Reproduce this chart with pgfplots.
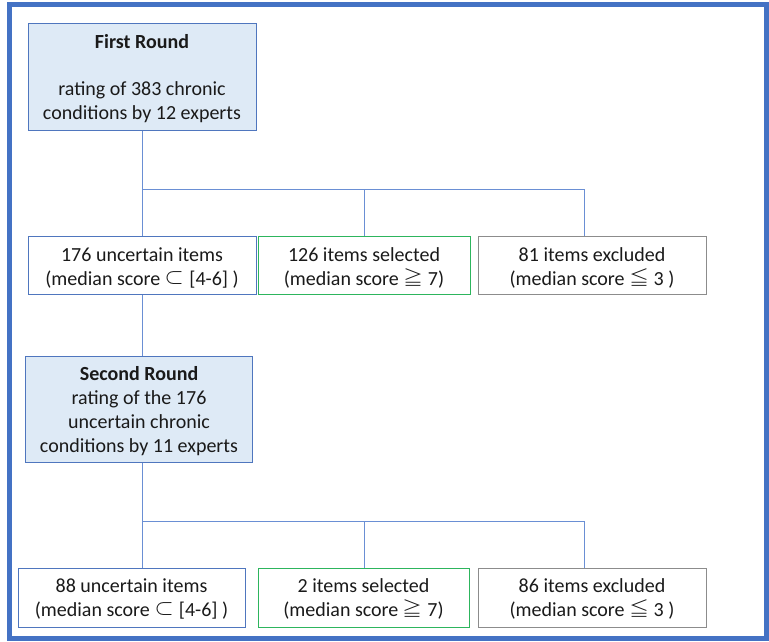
\documentclass[border=0pt]{standalone}
\usepackage{fontspec}
\setmainfont{Carlito}
\newfontfamily\cjk{Noto Sans CJK JP Light}
\usepackage{pgfplots}
\pgfplotsset{compat=1.18}
\definecolor{frame}{HTML}{4472C4}
\definecolor{conn}{HTML}{6A8FD4}
\definecolor{boxblue}{HTML}{4F76BE}
\definecolor{fillblue}{HTML}{DEEAF6}
\definecolor{boxgreen}{HTML}{2DB55D}
\definecolor{boxgray}{HTML}{8C8C8C}
\definecolor{txt}{HTML}{1A1A1A}
\tikzset{lbl/.style={font=\fontsize{20}{24}\selectfont, text=txt, anchor=base, inner sep=0pt}}
\begin{document}
\begin{tikzpicture}
\begin{axis}[
  width=769pt, height=641pt, scale only axis,
  xmin=0, xmax=769, ymin=0, ymax=641, y dir=reverse,
  hide axis, clip=false,
]
% outer frame
\addplot[draw=frame, line width=5pt] coordinates {(9.5,4.5) (766.5,4.5) (766.5,638.5) (9.5,638.5)} --cycle;
% connectors
\addplot[draw=conn, line width=1pt] coordinates {(142,130) (142,236)};
\addplot[draw=conn, line width=1pt] coordinates {(142,189) (584,189)};
\addplot[draw=conn, line width=1pt] coordinates {(364,189) (364,236)};
\addplot[draw=conn, line width=1pt] coordinates {(584,189) (584,236)};
\addplot[draw=conn, line width=1pt] coordinates {(142,294) (142,356)};
\addplot[draw=conn, line width=1pt] coordinates {(142,462) (142,568)};
\addplot[draw=conn, line width=1pt] coordinates {(142,521) (584,521)};
\addplot[draw=conn, line width=1pt] coordinates {(364,521) (364,568)};
\addplot[draw=conn, line width=1pt] coordinates {(584,521) (584,568)};
% boxes
\addplot[draw=boxblue, fill=fillblue, line width=1pt] coordinates {(28,23) (256,23) (256,130) (28,130)} --cycle;
\addplot[draw=boxblue, fill=white, line width=1pt] coordinates {(28,236) (256,236) (256,294) (28,294)} --cycle;
\addplot[draw=boxgreen, fill=white, line width=1pt] coordinates {(258,236) (470,236) (470,294) (258,294)} --cycle;
\addplot[draw=boxgray, fill=white, line width=1pt] coordinates {(478,236) (706,236) (706,294) (478,294)} --cycle;
\addplot[draw=boxblue, fill=fillblue, line width=1pt] coordinates {(25,356) (252,356) (252,462) (25,462)} --cycle;
\addplot[draw=boxblue, fill=white, line width=1pt] coordinates {(18,568) (245,568) (245,627) (18,627)} --cycle;
\addplot[draw=boxgreen, fill=white, line width=1pt] coordinates {(258,568) (469,568) (469,627) (258,627)} --cycle;
\addplot[draw=boxgray, fill=white, line width=1pt] coordinates {(478,568) (706,568) (706,627) (478,627)} --cycle;
% texts
\node[lbl] at (axis cs:142,48) {\textbf{First Round}};
\node[lbl] at (axis cs:142,95) {rating of 383 chronic};
\node[lbl] at (axis cs:142,119) {conditions by 12 experts};
\node[lbl] at (axis cs:142,261) {176 uncertain items};
\node[lbl] at (axis cs:142,285) {(median score {\cjk ⊂} [4-6] )};
\node[lbl] at (axis cs:364,261) {126 items selected};
\node[lbl] at (axis cs:364,285) {(median score {\cjk ≧} 7)};
\node[lbl] at (axis cs:592,261) {81 items excluded};
\node[lbl] at (axis cs:592,285) {(median score {\cjk ≦} 3 )};
\node[lbl] at (axis cs:139,380) {\textbf{Second Round}};
\node[lbl] at (axis cs:139,404) {rating of the 176};
\node[lbl] at (axis cs:139,428) {uncertain chronic};
\node[lbl] at (axis cs:139,452) {conditions by 11 experts};
\node[lbl] at (axis cs:131.5,592) {88 uncertain items};
\node[lbl] at (axis cs:131.5,616) {(median score {\cjk ⊂} [4-6] )};
\node[lbl] at (axis cs:363.5,592) {2 items selected};
\node[lbl] at (axis cs:363.5,616) {(median score {\cjk ≧} 7)};
\node[lbl] at (axis cs:592,592) {86 items excluded};
\node[lbl] at (axis cs:592,616) {(median score {\cjk ≦} 3 )};
\end{axis}
\path (current axis.south west) rectangle (current axis.north east);
\end{tikzpicture}
\end{document}
